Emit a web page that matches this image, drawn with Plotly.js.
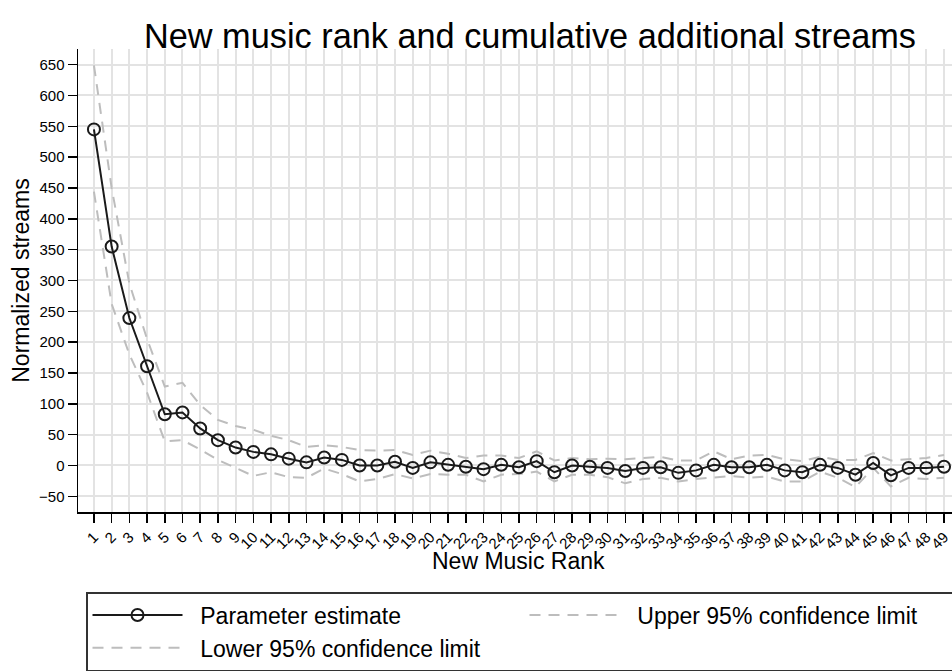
<!DOCTYPE html>
<html>
<head>
<meta charset="utf-8">
<script src="https://cdn.plot.ly/plotly-3.0.1.min.js"></script>
<style>html,body{margin:0;padding:0;background:#fff;}#chart{width:952px;height:672px;}</style>
</head>
<body>
<div id="chart"></div>
<script>
const ranks = [1,2,3,4,5,6,7,8,9,10,11,12,13,14,15,16,17,18,19,20,21,22,23,24,25,26,27,28,29,30,31,32,33,34,35,36,37,38,39,40,41,42,43,44,45,46,47,48,49];
const tickLabels = ['1','2','3','4','5','6','7','8','9','10','11','12','13','14','15','16','17','18','19','20','21','22','23','24','25','26','27','28','29','30','31','32','33','34','35','36','37','38','39','40','41','42','43','44','45','46','47','48','49'];
const estimate = [545,355,239,161,83,86,60,41,29,22,18,11,5,13,9,0,0,6,-4,5,1,-2,-6,1,-3,7,-11,0,-2,-4,-9,-4,-3,-12,-8,1,-3,-3,1,-8,-11,1,-4,-15,4,-16,-4,-4,-2];
const upper = [649,450,295,205,128,134,98,74,64,58,48,41,30,33,30,25,24,25,17,24,19,12,16,16,12,23,8,12,10,11,10,12,14,8,8,23,10,16,17,10,7,14,9,9,20,8,10,12,17];
const lower = [444,262,180,118,39,41,26,9,-4,-17,-11,-19,-20,-5,-14,-26,-22,-14,-21,-14,-15,-15,-26,-15,-14,-10,-26,-15,-15,-19,-29,-22,-20,-26,-22,-20,-17,-20,-18,-26,-26,-10,-20,-35,-4,-34,-20,-22,-20];
const yTicks = [-50,0,50,100,150,200,250,300,350,400,450,500,550,600,650];
const yTickLabels = ['\u221250','0','50','100','150','200','250','300','350','400','450','500','550','600','650'];

const FONT = 'Liberation Sans, Arial, Helvetica, sans-serif';
const ciLine = {color:'#bdbdbd', width:2, dash:'11px,8px'};
const pad = '\u00a0\u00a0';

const traces = [
  {x: ranks, y: upper, type:'scatter', mode:'lines', name: pad + 'Upper 95% confidence limit', line: ciLine, legendrank: 2},
  {x: ranks, y: lower, type:'scatter', mode:'lines', name: pad + 'Lower 95% confidence limit', line: ciLine, legendrank: 3},
  {x: ranks, y: estimate, type:'scatter', mode:'lines+markers', name: pad + 'Parameter estimate',
   line:{color:'#1a1a1a', width:2},
   marker:{symbol:'circle-open', size:12, color:'#1a1a1a', line:{width:2, color:'#1a1a1a'}},
   legendrank: 1}
];

const layout = {
  width: 952, height: 672,
  paper_bgcolor:'#ffffff', plot_bgcolor:'#ffffff',
  font:{family: FONT, color:'#000000'},
  margin:{l:78, r:0, t:49, b:160, pad:0, autoexpand:false},
  title:{text:'New music rank and cumulative additional streams', font:{size:34.3, family:FONT, color:'#000'},
         x: 530/952, xanchor:'center', xref:'container', yref:'container', y: 1 - 36/672, yanchor:'middle'},
  xaxis:{range:[0.1, 49.45], tickmode:'array', tickvals: ranks, ticktext: tickLabels, tickangle:-45,
         tickfont:{size:15}, ticks:'outside', ticklen:9, tickwidth:1.5, tickcolor:'#000',
         showgrid:true, gridcolor:'#e3e3e3', gridwidth:2, zeroline:false,
         showline:true, linecolor:'#000', linewidth:1.5, automargin:false},
  yaxis:{range:[-75.5, 675.4], tickmode:'array', tickvals: yTicks, ticktext: yTickLabels,
         tickfont:{size:15}, ticks:'outside', ticklen:9, tickwidth:1.5, tickcolor:'#000',
         showgrid:true, gridcolor:'#e3e3e3', gridwidth:2, zeroline:false,
         showline:true, linecolor:'#000', linewidth:1.5, automargin:false,
         title:{text:'Normalized streams', font:{size:23}, standoff:3}},
  annotations:[
    {text:'New Music Rank', xref:'paper', yref:'paper', x:(518.5-78)/874, y:(512-561)/463,
     xanchor:'center', yanchor:'middle', showarrow:false, font:{size:23, family:FONT, color:'#000'}}
  ],
  showlegend:true,
  legend:{orientation:'h', x:(86-78)/874, xanchor:'left', y:(512-592)/463, yanchor:'top',
          bordercolor:'#333333', borderwidth:1.5, bgcolor:'#ffffff',
          font:{size:23}, itemwidth:90, entrywidth:332, entrywidthmode:'pixels',
          traceorder:'normal'},
  hovermode:false
};

Plotly.newPlot('chart', traces, layout, {displayModeBar:false, staticPlot:true});
</script>
</body>
</html>
